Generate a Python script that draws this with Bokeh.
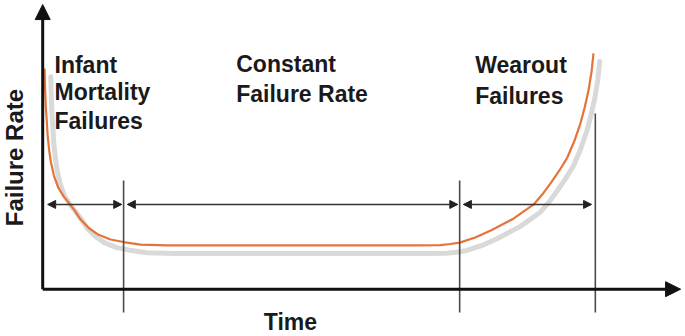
from bokeh.plotting import figure
from bokeh.models import ColumnDataSource, Range1d, Arrow, NormalHead, Label
from bokeh.transform import dodge
from bokeh.core.properties import value
from bokeh.embed import file_html
from bokeh.resources import INLINE

# Bathtub curve values (time, failure rate in arbitrary units)
curve_time = [0.3, 0.35, 0.4, 0.5, 0.65, 0.8, 1.05, 1.3, 1.8, 2.5, 3.4, 4.4, 5.2,
              6.1, 7.4, 8.8, 10.9, 13.0, 15.7, 20.0, 30.0, 40.0, 50.0, 60.0, 63.9,
              65.5, 67.0, 69.5, 72.0, 75.7, 78.9, 80.3, 81.6, 83.0, 84.3, 85.4,
              86.4, 87.1, 87.7, 88.2, 88.5]
curve_rate = [78.6, 74.5, 70.8, 65.0, 60.1, 54.5, 49.4, 45.5, 40.5, 36.2, 33.0, 30.2, 27.8,
              24.8, 21.8, 19.6, 17.7, 16.8, 15.9, 15.6, 15.6, 15.6, 15.6, 15.6, 15.7,
              16.1, 16.6, 18.4, 20.9, 25.2, 30.2, 33.8, 37.7, 42.2, 46.9, 52.6,
              59.0, 64.8, 70.8, 77.5, 84.0]

# Phase boundaries (time) and their vertical extent
boundary_time = [13.0, 67.0, 88.8]
boundary_top = [38.7, 38.7, 62.6]
boundary_bottom = -8.3

# Phase span arrows
span_start = [0.8, 13.6, 67.6]
span_end = [12.7, 66.7, 88.2]
span_level = 30.2

# Labels
phase_lines = ["Infant", "Mortality", "Failures", "Constant", "Failure Rate", "Wearout", "Failures"]
phase_x = [1.9, 1.9, 1.9, 31.1, 31.1, 69.5, 69.5]
phase_y = [79.9, 70.4, 59.8, 80.1, 69.4, 79.7, 69.0]
x_label = "Time"
y_label = "Failure Rate"

p = figure(width=685, height=336, output_backend="svg", toolbar_location=None,
           x_range=Range1d(-6.78, 103.29), y_range=Range1d(-16.85, 102.85),
           min_border=0, min_border_left=0, min_border_right=0,
           min_border_top=0, min_border_bottom=0)
p.axis.visible = False
p.grid.visible = False
p.outline_line_color = None
p.background_fill_color = "white"

src = ColumnDataSource(dict(t=curve_time, r=curve_rate))

# shadow
p.line(x=dodge("t", 1.0, range=p.x_range), y=dodge("r", -2.9, range=p.y_range),
       source=src, line_color="#cccccc", line_width=5, line_alpha=0.75,
       line_join="round", line_cap="round")
# main curve
p.line(x="t", y="r", source=src, line_color="#e5733a", line_width=2.2,
       line_join="round")

# boundaries
p.segment(x0=boundary_time, y0=[boundary_bottom] * 3, x1=boundary_time, y1=boundary_top,
          line_color="#4a4a4a", line_width=1.6)

# span arrows (double headed)
for s, e in zip(span_start, span_end):
    p.add_layout(Arrow(x_start=s, y_start=span_level, x_end=e, y_end=span_level,
                       line_color="#333333", line_width=1.6,
                       start=NormalHead(size=8, fill_color="#222222", line_color="#222222"),
                       end=NormalHead(size=8, fill_color="#222222", line_color="#222222")))

# axes with arrows
p.add_layout(Arrow(x_start=0, y_start=0, x_end=0, y_end=101.4,
                   line_color="#111111", line_width=3,
                   end=NormalHead(size=15, fill_color="#111111", line_color="#111111")))
p.add_layout(Arrow(x_start=0, y_start=0, x_end=102.5, y_end=0,
                   line_color="#111111", line_width=3,
                   end=NormalHead(size=15, fill_color="#111111", line_color="#111111")))

# phase labels
p.text(x=phase_x, y=phase_y, text=phase_lines, text_font=value("Liberation Sans"),
       text_font_style="bold", text_font_size="23px", text_color="#1a1a1a",
       text_baseline="alphabetic", text_align="left")

p.add_layout(Label(x=39.8, y=-11.6, text=x_label, text_font="Liberation Sans",
                   text_font_style="bold", text_font_size="23px", text_color="#1a1a1a",
                   text_align="center", text_baseline="alphabetic"))
p.add_layout(Label(x=-4.6, y=46.9, text=y_label, text_font="Liberation Sans",
                   text_font_style="bold", text_font_size="24px", text_color="#1a1a1a",
                   text_align="center", text_baseline="middle", angle=1.5708))

open("out.html", "w").write(file_html(p, INLINE))
